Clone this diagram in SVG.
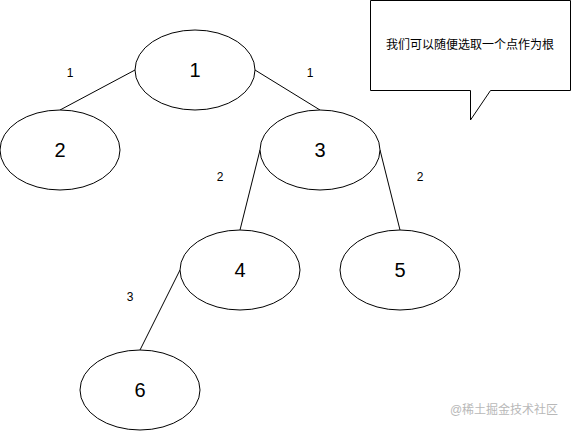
<svg xmlns="http://www.w3.org/2000/svg" width="571" height="431" viewBox="0 0 571 431">
<style>
.n{fill:#fff;stroke:#000;stroke-width:1}
.t{font-family:"Liberation Sans",Arial,sans-serif;font-size:20px;fill:#000;text-anchor:middle}
.e{font-family:"Liberation Sans",Arial,sans-serif;font-size:12px;fill:#000;text-anchor:middle}
.c{stroke:#000;stroke-width:1;fill:none}
</style>
<rect width="571" height="431" fill="#fff"/>
<g id="connectors">
<line class="c" x1="135" y1="70" x2="60" y2="110"/>
<line class="c" x1="255" y1="70" x2="320" y2="110"/>
<line class="c" x1="260" y1="150" x2="240" y2="230"/>
<line class="c" x1="380" y1="150" x2="400" y2="230"/>
<line class="c" x1="180" y1="270" x2="140" y2="350"/>
<text class="e" x="70" y="77">1</text>
<text class="e" x="310" y="77">1</text>
<text class="e" x="220" y="181">2</text>
<text class="e" x="420" y="181">2</text>
<text class="e" x="130" y="301">3</text>
</g>
<g id="node1"><ellipse class="n" cx="195" cy="70" rx="60" ry="40"/><text class="t" x="195" y="77">1</text></g>
<g id="node2"><ellipse class="n" cx="60" cy="150" rx="60" ry="40"/><text class="t" x="60" y="157">2</text></g>
<g id="node3"><ellipse class="n" cx="320" cy="150" rx="60" ry="40"/><text class="t" x="320" y="157">3</text></g>
<g id="node4"><ellipse class="n" cx="240" cy="270" rx="60" ry="40"/><text class="t" x="240" y="277">4</text></g>
<g id="node5"><ellipse class="n" cx="400" cy="270" rx="60" ry="40"/><text class="t" x="400" y="277">5</text></g>
<g id="node6"><ellipse class="n" cx="140" cy="390" rx="60" ry="40"/><text class="t" x="140" y="397">6</text></g>
<g id="callout">
<path class="n" d="M370.5,0.5 H570.5 V90.5 H490.5 L470.5,120 V90.5 H370.5 Z"/>
<text x="470" y="49" font-family="'Liberation Sans','Noto Sans CJK SC',sans-serif" font-size="12" text-anchor="middle" fill="#000">我们可以随便选取一个点作为根</text>
</g>
<text x="504" y="414" font-family="'Liberation Sans','Noto Sans CJK SC',sans-serif" font-size="12" text-anchor="middle" fill="#b8b8b8">@稀土掘金技术社区</text>
</svg>
